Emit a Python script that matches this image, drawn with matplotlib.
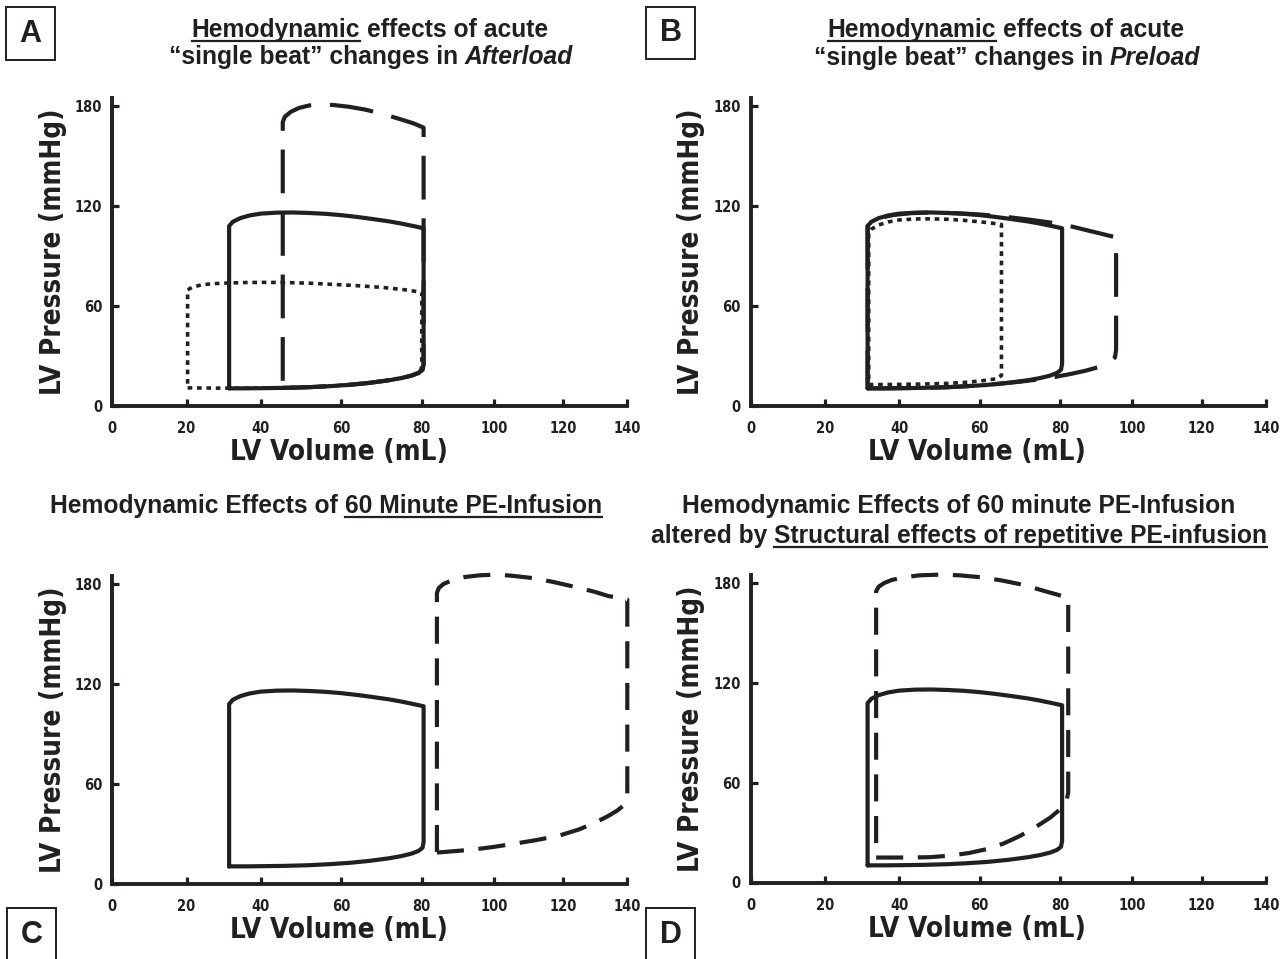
import numpy as np
import matplotlib
matplotlib.use("Agg")
import matplotlib.pyplot as plt
from matplotlib.patches import Rectangle
from matplotlib.lines import Line2D

# axis text in a condensed bold face, titles in an Arial-like bold
plt.rcParams['font.family'] = ['DejaVu Sans']
plt.rcParams['font.stretch'] = 'condensed'
plt.rcParams['font.weight'] = 'bold'
plt.rcParams['axes.labelweight'] = 'bold'
TITLE_FONT = ['Liberation Sans', 'DejaVu Sans']

INK = '#231f20'

# axes ticks
vol_ticks = [0, 20, 40, 60, 80, 100, 120, 140]
pres_ticks = [0, 60, 120, 180]
# the original volume axis is hand drawn: tick offsets (px) along the axis
vol_tick_px = [0, 74.5, 148.6, 229.2, 309.8, 381.8, 451.0, 515.3]

# control loop (solid), same in all four panels
ctrl_vol = [31.5, 36, 40, 46, 52, 57, 62, 67, 72, 75, 77.5, 79.2, 80.2, 80.5, 80.5,
            78, 75, 72, 68, 64, 60, 56, 52, 48, 44, 40, 37, 34.5, 32.5, 31.5, 31.5]
ctrl_pres = [10.3, 10.3, 10.4, 10.6, 11.0, 11.6, 12.4, 13.6, 15.2, 16.5, 18.0, 19.6, 21.5, 25.0, 106.5,
             107.8, 109.3, 110.6, 112.0, 113.3, 114.4, 115.2, 115.7, 116.0, 115.9, 115.3, 114.2,
             112.6, 110.4, 107.8, 10.3]

# A: increased afterload (long dash)
ahi_vol = [45.5, 48, 52, 57, 62, 67, 72, 75, 77.5, 79.2, 80.2, 80.5, 80.5,
           78, 75, 72, 69, 66, 62, 58, 55, 52, 49.5, 47.5, 46, 45.5, 45.5]
ahi_pres = [10.6, 10.7, 11.0, 11.6, 12.4, 13.6, 15.2, 16.5, 18.0, 19.6, 21.5, 25, 167,
            169.5, 171.8, 174.0, 176.0, 177.8, 179.5, 180.6, 180.8, 180.3, 178.8, 176.5, 173.5, 170.3, 10.6]

# A: reduced afterload (dotted)
alo_vol = [20.3, 25, 31.5, 36, 40, 46, 52, 57, 62, 67, 72, 75, 77.5, 79.2, 79.8, 80, 80,
           76, 70, 64, 58, 52, 46, 41, 36, 31, 27, 24, 21.5, 20.3, 20.3]
alo_pres = [10.6, 10.5, 10.4, 10.4, 10.5, 10.7, 11.1, 11.7, 12.5, 13.7, 15.3, 16.6, 18.1, 19.7, 21.5, 25, 68,
            69.5, 71.0, 72.0, 72.8, 73.5, 73.9, 74.0, 73.9, 73.6, 73.2, 72.5, 71.0, 69.5, 10.6]

# B: reduced preload (dotted)
plo_vol = [31.8, 36, 40, 46, 52, 57, 61, 64, 65.4, 65.4,
           63, 60, 56, 52, 48, 44, 40, 37, 34.5, 32.5, 31.8, 31.8]
plo_pres = [12.6, 12.6, 12.7, 12.9, 13.3, 14.0, 15.0, 16.0, 18.0, 108.8,
            109.6, 110.4, 111.3, 111.9, 112.2, 112.1, 111.5, 110.3, 108.5, 106.0, 104.0, 12.6]

# B: increased preload (long dash)
phi_vol = [31.5, 36, 40, 46, 52, 58, 64, 70, 75, 79, 83, 87, 90.5, 93.5, 95.2, 95.5, 95.5,
           92, 88, 83.5, 78, 72, 66, 60, 54, 48, 43, 38.5, 35, 32.5, 31.5, 31.5]
phi_pres = [10.3, 10.3, 10.4, 10.6, 11.0, 11.8, 12.9, 14.3, 15.8, 17.3, 19.0, 20.9, 23.0, 25.8, 29.0, 33.5, 101.0,
            102.9, 105.0, 107.4, 109.8, 111.8, 113.5, 114.8, 115.6, 116.0, 115.6, 114.5, 112.8, 110.3, 107.8, 10.3]

# C: 60 minute PE infusion (short dash)
pe_vol = [84.2, 90, 95, 100, 105, 112, 118.6, 125, 130, 134, 137, 139.2, 140, 140,
          137, 134, 130, 126, 122, 117, 111, 105, 100.5, 96, 92, 88.5, 86, 84.7, 84.2, 84.2]
pe_pres = [18.6, 19.6, 20.6, 22.0, 23.6, 26.0, 28.6, 32.5, 36.6, 40.5, 44.0, 47.5, 51.0, 170.6,
           171.8, 172.8, 175.2, 177.2, 179.0, 181.3, 183.6, 185.0, 185.6, 185.2, 184.2, 182.3, 180.0,
           177.5, 174.6, 18.6]

# D: PE infusion after repetitive PE (short dash)
ped_vol = [33.8, 37, 42, 47.5, 53, 57.5, 62, 66, 70, 74, 77.5, 80.5, 81.8, 82.2, 82.2,
           79, 76, 71, 65.5, 60.5, 55, 50, 45, 41, 38, 36, 34.5, 33.8, 33.8]
ped_pres = [15.0, 15.0, 15.0, 15.2, 16.2, 17.8, 20.2, 23.5, 28.0, 33.5, 39.0, 45.0, 50.0, 54.0, 171.0,
            173.2, 175.2, 178.8, 181.5, 183.4, 184.6, 185.0, 184.6, 183.3, 181.8, 180.0, 177.8, 175.0, 15.0]

W, H = 1282, 959
fig = plt.figure(figsize=(W / 100, H / 100), dpi=100)
fig.patch.set_facecolor('white')

# piecewise linear volume scale so the ticks land where the original drew them
_src = np.array([-200.0] + vol_ticks + [340.0])
_dst = np.concatenate([[-200.0], np.array(vol_tick_px) / vol_tick_px[-1] * 140, [340.0]])


def vol_fwd(v):
    return np.interp(v, _src, _dst)


def vol_inv(p):
    return np.interp(p, _dst, _src)


AX_W = 515.3
AX_H = 185 * 1.664

SOLID = dict(color=INK, lw=3.0, solid_joinstyle='round', solid_capstyle='round', clip_on=False)
LONG = dict(color=INK, lw=3.0, dashes=(10.5, 4.5), dash_capstyle='butt', clip_on=False)
SHORT = dict(color=INK, lw=3.0, dashes=(6.5, 3.5), dash_capstyle='butt', clip_on=False)
DOTS = dict(color=INK, lw=2.6, dashes=(1.3, 1.3), dash_capstyle='butt', clip_on=False)


def make_panel(left_px, zero_px):
    ax = fig.add_axes([left_px / W, 1 - zero_px / H, AX_W / W, AX_H / H])
    ax.set_xscale('function', functions=(vol_fwd, vol_inv))
    ax.set_xlim(0, 140)
    ax.set_ylim(0, 185)
    ax.set_xticks(vol_ticks)
    ax.set_xticklabels([str(t) for t in vol_ticks])
    ax.set_yticks(pres_ticks)
    ax.set_yticklabels([str(t) for t in pres_ticks])
    ax.xaxis.set_minor_locator(matplotlib.ticker.NullLocator())
    for s in ['top', 'right']:
        ax.spines[s].set_visible(False)
    for s in ['left', 'bottom']:
        ax.spines[s].set_linewidth(2.8)
        ax.spines[s].set_color(INK)
        ax.spines[s].set_capstyle('projecting')
    ax.tick_params(direction='in', length=5, width=2.3, colors=INK, labelsize=10.5)
    ax.tick_params(axis='x', pad=11)
    ax.tick_params(axis='y', pad=7)
    ax.set_xlabel('LV Volume (mL)', fontsize=20, color=INK)
    ax.set_ylabel('LV Pressure (mmHg)', fontsize=20, color=INK)
    ax.xaxis.label.set_va('center')
    ax.yaxis.label.set_va('center')
    ax.xaxis.set_label_coords(0.44, -0.152)
    ax.yaxis.set_label_coords(-0.115, 0.5)
    ax.patch.set_alpha(0)
    return ax


axA = make_panel(112, 405.5)
axA.plot(ahi_vol, ahi_pres, **LONG)
axA.plot(alo_vol, alo_pres, **DOTS)
axA.plot(ctrl_vol, ctrl_pres, **SOLID)

axB = make_panel(750.5, 405.5)
axB.plot(phi_vol, phi_pres, **LONG)
axB.plot(plo_vol, plo_pres, **DOTS)
axB.plot(ctrl_vol, ctrl_pres, **SOLID)

axC = make_panel(112, 883.5)
axC.plot(pe_vol, pe_pres, **SHORT)
axC.plot(ctrl_vol, ctrl_pres, **SOLID)

axD = make_panel(750.5, 882.5)
axD.plot(ped_vol, ped_pres, **SHORT)
axD.plot(ctrl_vol, ctrl_pres, **SOLID)

# titles, built piece by piece so parts can be underlined / italic
renderer = fig.canvas.get_renderer()


def text_width(s, size, style='normal'):
    t = fig.text(0, 0, s, fontsize=size, fontstyle=style, family=TITLE_FONT, fontstretch='normal')
    w = t.get_window_extent(renderer).width
    t.remove()
    return w


def title_line(cx, base, parts, size=17.7):
    gap = text_width('a a', size) - text_width('aa', size)
    widths = [text_width(s, size, st) for s, st, ul in parts]
    x = cx - (sum(widths) + gap * (len(parts) - 1)) / 2
    for (s, st, ul), w in zip(parts, widths):
        fig.text(x / W, 1 - base / H, s, fontsize=size, fontstyle=st, color=INK,
                 family=TITLE_FONT, fontstretch='normal', ha='left', va='baseline')
        if ul:
            fig.add_artist(Line2D([x / W, (x + w) / W], [1 - (base + 4) / H] * 2,
                                  lw=1.6, color=INK, transform=fig.transFigure))
        x += w + gap


title_line(370, 37, [('Hemodynamic', 'normal', True), ('effects of acute', 'normal', False)])
title_line(371, 64, [('\u201csingle beat\u201d changes in', 'normal', False), ('Afterload', 'italic', False)])
title_line(1006, 37, [('Hemodynamic', 'normal', True), ('effects of acute', 'normal', False)])
title_line(1007, 65, [('\u201csingle beat\u201d changes in', 'normal', False), ('Preload', 'italic', False)])
title_line(326, 513, [('Hemodynamic Effects of', 'normal', False), ('60 Minute PE-Infusion', 'normal', True)])
title_line(959, 513, [('Hemodynamic Effects of 60 minute PE-Infusion', 'normal', False)])
title_line(959, 543, [('altered by', 'normal', False),
                      ('Structural effects of repetitive PE-infusion', 'normal', True)])

# boxed panel letters
for letter, x0, y0, y1 in [('A', 6, 7, 60), ('B', 646, 7, 59), ('C', 7, 908, 970), ('D', 646, 908, 970)]:
    fig.add_artist(Rectangle((x0 / W, 1 - y1 / H), 49 / W, (y1 - y0) / H, transform=fig.transFigure,
                             fill=False, ec=INK, lw=1.4, clip_on=False))
    cy = (y0 + y1) / 2 if y1 < 900 else 935
    fig.text((x0 + 24.5) / W, 1 - cy / H, letter, fontsize=22, color=INK,
             family=TITLE_FONT, fontstretch='normal', ha='center', va='center')

fig.savefig('out.png', dpi=100, facecolor='white')
